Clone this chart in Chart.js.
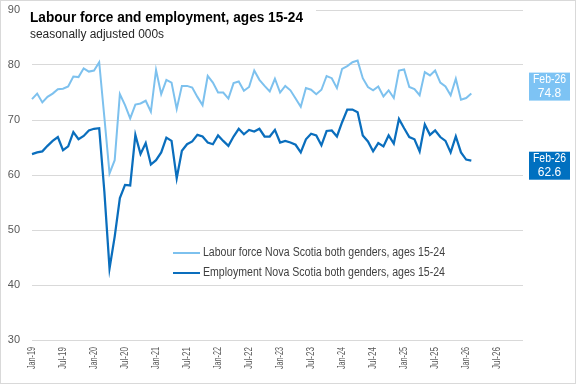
<!DOCTYPE html>
<html>
<head>
<meta charset="utf-8">
<script src="https://cdn.jsdelivr.net/npm/chart.js@4"></script>
<style>
  body { margin: 0; background: #fff; }
  #wrap { width: 577px; height: 385px; position: relative; }
</style>
</head>
<body>
<div id="wrap"><canvas id="line-chart"></canvas></div>
<script>
// months on the axis (data stops at Feb-26, axis runs to Dec-26)
const months = [
  'Jan-19','Feb-19','Mar-19','Apr-19','May-19','Jun-19','Jul-19','Aug-19','Sep-19','Oct-19','Nov-19','Dec-19',
  'Jan-20','Feb-20','Mar-20','Apr-20','May-20','Jun-20','Jul-20','Aug-20','Sep-20','Oct-20','Nov-20','Dec-20',
  'Jan-21','Feb-21','Mar-21','Apr-21','May-21','Jun-21','Jul-21','Aug-21','Sep-21','Oct-21','Nov-21','Dec-21',
  'Jan-22','Feb-22','Mar-22','Apr-22','May-22','Jun-22','Jul-22','Aug-22','Sep-22','Oct-22','Nov-22','Dec-22',
  'Jan-23','Feb-23','Mar-23','Apr-23','May-23','Jun-23','Jul-23','Aug-23','Sep-23','Oct-23','Nov-23','Dec-23',
  'Jan-24','Feb-24','Mar-24','Apr-24','May-24','Jun-24','Jul-24','Aug-24','Sep-24','Oct-24','Nov-24','Dec-24',
  'Jan-25','Feb-25','Mar-25','Apr-25','May-25','Jun-25','Jul-25','Aug-25','Sep-25','Oct-25','Nov-25','Dec-25',
  'Jan-26','Feb-26','Mar-26','Apr-26','May-26','Jun-26','Jul-26','Aug-26','Sep-26','Oct-26','Nov-26','Dec-26'
];
const tickLabels = ['Jan-19','Jul-19','Jan-20','Jul-20','Jan-21','Jul-21','Jan-22','Jul-22','Jan-23','Jul-23',
  'Jan-24','Jul-24','Jan-25','Jul-25','Jan-26','Jul-26'];

const labourForce = [
  73.8, 74.8, 73.2, 74.2, 74.8, 75.6, 75.7, 76.1, 77.9, 77.8, 79.4, 78.8,
  79.0, 80.5, 70.5, 60.3, 62.7, 74.7, 72.7, 70.3, 72.8, 73.0, 73.5, 71.5,
  79.1, 74.7, 77.3, 76.8, 72.0, 76.2, 76.2, 75.9, 74.2, 72.7, 78.0, 76.8,
  75.0, 75.0, 73.9, 76.7, 77.0, 75.3, 76.0, 79.0, 77.3, 76.2, 75.2, 77.5,
  75.0, 76.2, 75.4, 73.9, 72.4, 75.8, 75.5, 74.7, 75.5, 78.0, 77.6, 75.8,
  79.3, 79.8, 80.5, 80.8, 77.6, 76.0, 75.4, 76.1, 74.3, 75.4, 74.0, 79.0,
  79.2, 76.0, 75.6, 74.5, 78.7, 78.1, 79.0, 76.8, 76.1, 74.5, 77.5, 73.7,
  74.0, 74.8
];
const employment = [
  63.8, 64.1, 64.3, 65.3, 66.2, 66.9, 64.5, 65.2, 67.8, 66.5, 67.1, 68.1,
  68.4, 68.5, 57.0, 43.0, 48.8, 55.8, 58.2, 58.1, 67.3, 63.8, 65.8, 61.9,
  62.7, 64.1, 66.8, 66.2, 59.4, 64.4, 65.6, 66.1, 67.3, 67.0, 65.9, 65.6,
  67.2, 66.2, 65.3, 67.0, 68.4, 67.4, 68.2, 67.9, 68.4, 67.0, 67.0, 68.2,
  65.9, 66.2, 65.9, 65.5, 64.1, 66.5, 67.5, 67.2, 65.4, 68.0, 68.1, 67.0,
  69.6, 71.9, 71.9, 71.4, 67.2, 66.1, 64.3, 65.8, 65.2, 67.2, 65.7, 70.2,
  68.5, 66.9, 66.5, 64.3, 69.2, 67.3, 68.1, 66.9, 66.2, 64.1, 67.0, 64.1,
  62.8, 62.6
];

const lightBlue = '#7dc1ee';
const darkBlue = '#0a6ebd';

const extras = {
  id: 'extras',
  afterDraw(chart) {
    const ctx = chart.ctx;
    const y = chart.scales.y;
    const x = chart.scales.x;
    ctx.save();
    // frame
    ctx.strokeStyle = '#d9d9d9';
    ctx.lineWidth = 1;
    ctx.strokeRect(0.5, 0.5, 575, 383);

    // month labels, rotated, narrow like the original
    ctx.fillStyle = '#595959';
    ctx.font = "10px 'Liberation Sans', sans-serif";
    ctx.textAlign = 'right';
    ctx.textBaseline = 'middle';
    months.forEach((m, i) => {
      if (!tickLabels.includes(m)) return;
      const px = x.getPixelForValue(i);
      ctx.save();
      ctx.translate(px, chart.chartArea.bottom + 7);
      ctx.rotate(-Math.PI / 2);
      ctx.fillText(m, 0, 0, 22);
      ctx.restore();
    });

    // title box hides the top gridline
    ctx.textAlign = 'left';
    ctx.fillStyle = '#fff';
    ctx.fillRect(28, 2, 288, 42);
    ctx.fillStyle = '#000';
    ctx.textBaseline = 'alphabetic';
    ctx.font = "bold 15px 'Liberation Sans', sans-serif";
    ctx.fillText('Labour force and employment, ages 15-24', 30, 22, 273);
    ctx.fillStyle = '#262626';
    ctx.font = "12px 'Liberation Sans', sans-serif";
    ctx.fillText('seasonally adjusted 000s', 30, 38, 134);

    // legend
    ctx.textBaseline = 'middle';
    ctx.font = "12px 'Liberation Sans', sans-serif";
    chart.data.datasets.forEach((ds, k) => {
      const ly = 253 + k * 20;
      ctx.strokeStyle = ds.borderColor;
      ctx.lineWidth = 2;
      ctx.beginPath(); ctx.moveTo(173, ly); ctx.lineTo(200, ly); ctx.stroke();
      ctx.fillStyle = '#404040';
      ctx.fillText(ds.label, 203, ly, 242);
    });

    // end-value tags
    const tags = [
      { ds: 0, bg: '#7dc3f4', shift: -7 },
      { ds: 1, bg: '#0070c0', shift: 5 }
    ];
    ctx.textAlign = 'center';
    ctx.font = "12px 'Liberation Sans', sans-serif";
    tags.forEach(t => {
      const data = chart.data.datasets[t.ds].data;
      const last = data.length - 1;
      const cy = y.getPixelForValue(data[last]) + t.shift;
      ctx.fillStyle = t.bg;
      ctx.fillRect(529, cy - 14, 41, 28);
      ctx.fillStyle = '#fff';
      ctx.fillText(months[last], 549.5, cy - 7, 33);
      ctx.fillText(data[last].toFixed(1), 549.5, cy + 7, 33);
    });
    ctx.restore();
  }
};

new Chart(document.getElementById('line-chart'), {
  type: 'line',
  data: {
    labels: months,
    datasets: [
      { label: 'Labour force Nova Scotia both genders, ages 15-24', data: labourForce,
        borderColor: lightBlue, borderWidth: 2, pointRadius: 0, tension: 0, fill: false },
      { label: 'Employment Nova Scotia both genders, ages 15-24', data: employment,
        borderColor: darkBlue, borderWidth: 2.25, pointRadius: 0, tension: 0, fill: false }
    ]
  },
  options: {
    responsive: true,
    maintainAspectRatio: false,
    animation: false,
    devicePixelRatio: 1,
    layout: { padding: { top: 10, right: 54, left: 0, bottom: 0 } },
    plugins: { legend: { display: false }, tooltip: { enabled: false } },
    scales: {
      x: {
        grid: { display: false },
        border: { display: false },
        afterFit: s => { s.height = 45; },
        ticks: { display: false }
      },
      y: {
        min: 30, max: 90,
        afterFit: s => { s.width = 32; },
        grid: { color: '#d9d9d9', drawTicks: true, tickLength: 12, tickColor: 'rgba(0,0,0,0)' },
        border: { display: false },
        ticks: { stepSize: 10, padding: 0, color: '#595959',
          font: { size: 11, family: "'Liberation Sans', sans-serif" } }
      }
    }
  },
  plugins: [extras]
});
</script>
</body>
</html>
